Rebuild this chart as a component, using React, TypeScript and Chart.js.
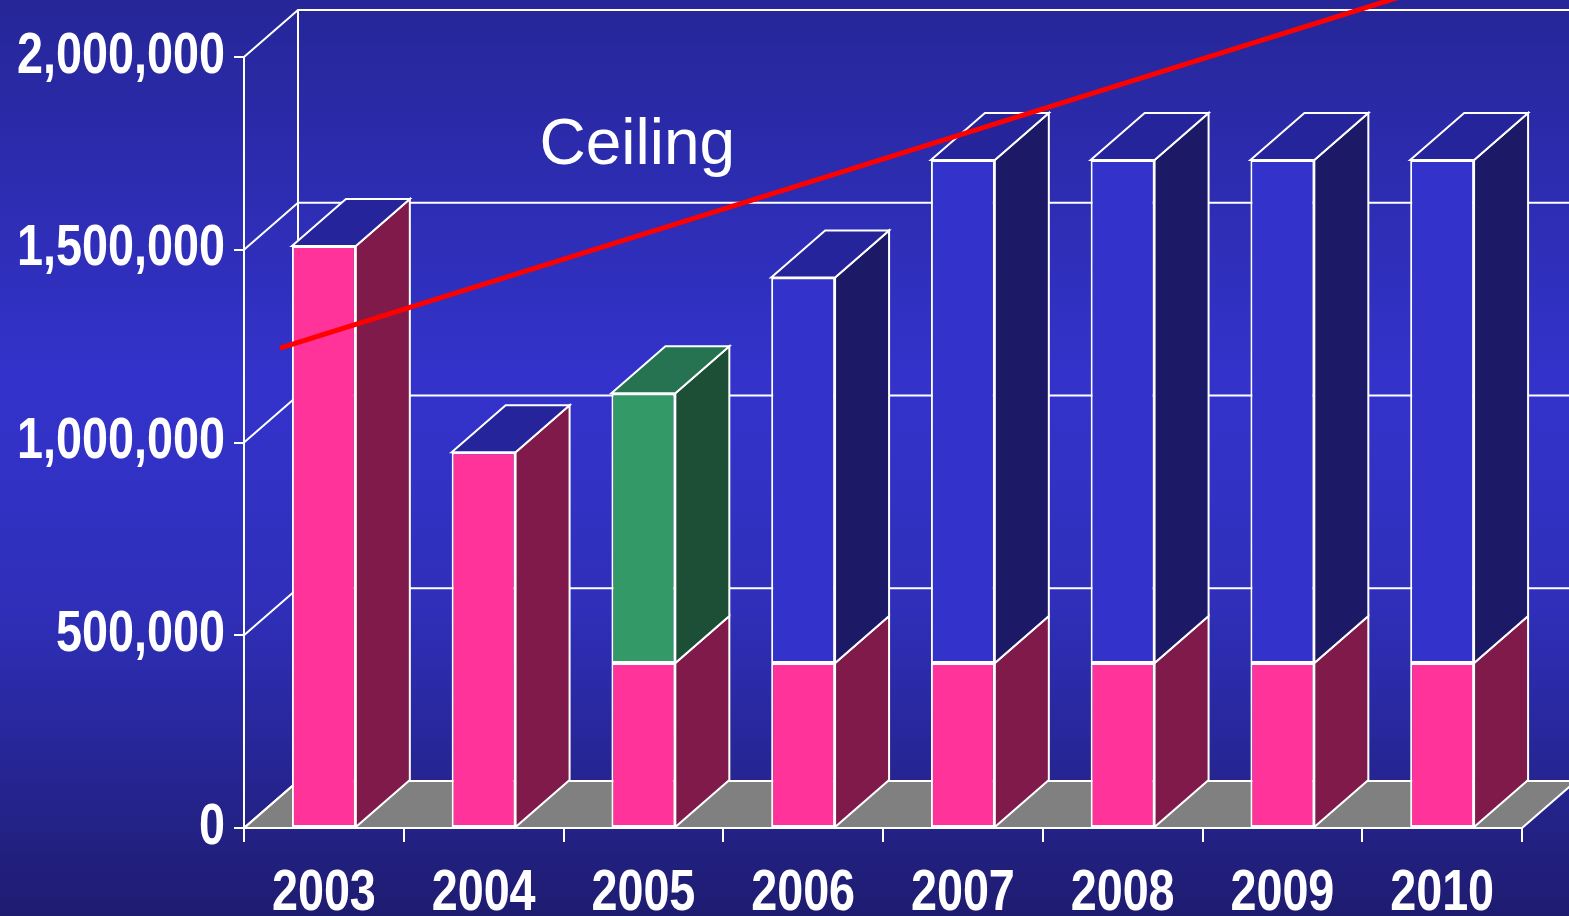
import { useEffect, useRef } from 'react';
import { Chart, registerables } from 'chart.js';

Chart.register(...registerables);

// ---- data ----
const categories = ['2003', '2004', '2005', '2006', '2007', '2008', '2009', '2010'];
const baseValues = [1510000, 975000, 428000, 428000, 428000, 428000, 428000, 428000];
const greenValues = [null, null, 700000, null, null, null, null, null];
const blueValues = [null, null, null, 1000000, 1305000, 1305000, 1305000, 1305000];
const yTicks = [0, 500000, 1000000, 1500000, 2000000];
const ceilingX = [0.225, 8.5];
const ceilingY = [1245000, 2320000];
const ceilingLabel = 'Ceiling';
const ceilingLabelPos = { x: 1.85, y: 1722000 };

// ---- styles ----
const DEPTH_X = 54;
const DEPTH_Y = 47;
const FRONT = ['#ff3399', '#339966', '#3333cc'];
const SIDE = ['#801a4b', '#1d4f36', '#1c1a66'];
const TOP = ['#26249a', '#257350', '#26249a'];
const FLOOR = '#808080';
const LABEL_FONT = 'bold 57px "Liberation Sans", Arial, sans-serif';
const NARROW = 0.82;

const threeD = {
  id: 'threeD',
  beforeDraw(chart: any) {
    const { ctx, width, height } = chart;
    const g = ctx.createLinearGradient(0, 0, 0, height);
    g.addColorStop(0, 'rgb(38,38,152)');
    g.addColorStop(0.42, 'rgb(51,51,204)');
    g.addColorStop(0.66, 'rgb(47,47,186)');
    g.addColorStop(1, 'rgb(30,28,112)');
    ctx.save();
    ctx.fillStyle = g;
    ctx.fillRect(0, 0, width, height);
    ctx.restore();
  },
  beforeDatasetsDraw(chart: any) {
    const { ctx } = chart;
    const { left, right, bottom } = chart.chartArea;
    const ys = chart.scales.y;
    const xl = chart.scales.xl;
    ctx.save();
    ctx.lineJoin = 'miter';
    // floor
    ctx.beginPath();
    ctx.moveTo(left, bottom);
    ctx.lineTo(right, bottom);
    ctx.lineTo(right + DEPTH_X, bottom - DEPTH_Y);
    ctx.lineTo(left + DEPTH_X, bottom - DEPTH_Y);
    ctx.closePath();
    ctx.fillStyle = FLOOR;
    ctx.fill();
    ctx.strokeStyle = '#ffffff';
    ctx.lineWidth = 2;
    ctx.stroke();
    // back wall
    const topY = ys.getPixelForValue(yTicks[yTicks.length - 1]);
    ctx.beginPath();
    ctx.moveTo(left + DEPTH_X, topY - DEPTH_Y);
    ctx.lineTo(left + DEPTH_X, bottom - DEPTH_Y);
    ctx.stroke();
    yTicks.forEach((v) => {
      const yy = ys.getPixelForValue(v);
      ctx.beginPath();
      ctx.moveTo(left, yy);
      ctx.lineTo(left + DEPTH_X, yy - DEPTH_Y);
      ctx.lineTo(chart.width + 5, yy - DEPTH_Y);
      ctx.stroke();
    });
    // label
    ctx.fillStyle = '#ffffff';
    ctx.font = '64px "Liberation Sans", Arial, sans-serif';
    ctx.textAlign = 'left';
    ctx.textBaseline = 'alphabetic';
    ctx.fillText(ceilingLabel, xl.getPixelForValue(ceilingLabelPos.x), ys.getPixelForValue(ceilingLabelPos.y));

    // 3D faces of bars
    const barSets = [baseValues, greenValues, blueValues];
    const topmost = categories.map((_, i) => {
      let t = -1;
      barSets.forEach((arr, d) => { if (arr[i] != null) t = d; });
      return t;
    });
    barSets.forEach((arr, d) => {
      const meta = chart.getDatasetMeta(d);
      meta.data.forEach((el: any, i: number) => {
        if (arr[i] == null) return;
        const l = el.x - el.width / 2;
        const r = el.x + el.width / 2;
        const t = el.y;
        const b = el.base;
        ctx.lineWidth = 2;
        ctx.strokeStyle = '#ffffff';
        ctx.beginPath();
        ctx.moveTo(r, b);
        ctx.lineTo(r, t);
        ctx.lineTo(r + DEPTH_X, t - DEPTH_Y);
        ctx.lineTo(r + DEPTH_X, b - DEPTH_Y);
        ctx.closePath();
        ctx.fillStyle = SIDE[d];
        ctx.fill();
        ctx.stroke();
        if (topmost[i] === d) {
          ctx.beginPath();
          ctx.moveTo(l, t);
          ctx.lineTo(l + DEPTH_X, t - DEPTH_Y);
          ctx.lineTo(r + DEPTH_X, t - DEPTH_Y);
          ctx.lineTo(r, t);
          ctx.closePath();
          ctx.fillStyle = TOP[d];
          ctx.fill();
          ctx.stroke();
        }
      });
    });
    ctx.restore();
  },
  afterDraw(chart: any) {
    const { ctx } = chart;
    const xs = chart.scales.x;
    const ys = chart.scales.y;
    ctx.save();
    ctx.fillStyle = '#ffffff';
    ctx.font = LABEL_FONT;
    // y labels
    ctx.textAlign = 'right';
    ctx.textBaseline = 'middle';
    ys.ticks.forEach((t: any, i: number) => {
      const yy = ys.getPixelForTick(i);
      ctx.save();
      ctx.translate(ys.right - 19, yy);
      ctx.scale(NARROW, 1);
      ctx.fillText(String(t.label), 0, 0);
      ctx.restore();
    });
    // x labels
    ctx.textAlign = 'center';
    ctx.textBaseline = 'alphabetic';
    xs.ticks.forEach((t: any, i: number) => {
      const xx = xs.getPixelForTick(i);
      ctx.save();
      ctx.translate(xx, xs.top + 82);
      ctx.scale(NARROW, 1);
      ctx.fillText(String(t.label), 0, 0);
      ctx.restore();
    });
    ctx.restore();
  },
};

export default function App() {
  const ref = useRef<HTMLCanvasElement>(null);
  useEffect(() => {
    document.body.style.margin = '0';
    const barDs = (data: (number | null)[], d: number) => ({
      type: 'bar' as const,
      data,
      backgroundColor: FRONT[d],
      borderColor: '#ffffff',
      borderWidth: 2,
      borderSkipped: false,
      barPercentage: 0.4,
      categoryPercentage: 1,
      grouped: false,
    });
    const chart = new Chart(ref.current!, {
      type: 'bar',
      data: {
        labels: categories,
        datasets: [
          barDs(baseValues, 0),
          barDs(greenValues, 1),
          barDs(blueValues, 2),
          {
            type: 'line',
            label: 'Ceiling',
            data: ceilingX.map((x, i) => ({ x, y: ceilingY[i] })),
            xAxisID: 'xl',
            borderColor: '#ff0000',
            borderWidth: 5,
            pointRadius: 0,
            tension: 0,
            clip: false,
            order: -1,
          } as any,
        ],
      },
      options: {
        responsive: false,
        animation: false,
        devicePixelRatio: 1,
        layout: { padding: { top: 57, right: 47, left: 0, bottom: 0 } },
        plugins: { legend: { display: false }, tooltip: { enabled: false } },
        scales: {
          x: {
            stacked: true,
            grid: { display: true, drawOnChartArea: false, drawTicks: true, tickLength: 14, color: '#ffffff', lineWidth: 2, offset: true },
            border: { display: true, color: '#ffffff', width: 2 },
            ticks: { color: 'rgba(0,0,0,0)', font: { size: 20 }, padding: 16, maxRotation: 0, autoSkip: false },
            afterFit(s: any) { s.height = 88; },
          },
          xl: { type: 'linear', display: false, min: 0, max: 8, offset: false, grid: { offset: false } },
          y: {
            stacked: true,
            min: 0,
            max: 2000000,
            afterBuildTicks(s: any) { s.ticks = yTicks.map((v) => ({ value: v })); },
            grid: { display: true, drawOnChartArea: false, drawTicks: true, tickLength: 10, color: '#ffffff', lineWidth: 2 },
            border: { display: true, color: '#ffffff', width: 2 },
            ticks: { color: 'rgba(0,0,0,0)', font: { size: 20 }, padding: 9, callback: (v: any) => Number(v).toLocaleString('en-US') },
            afterFit(s: any) { s.width = 244; },
          },
        } as any,
      },
      plugins: [threeD],
    });
    return () => chart.destroy();
  }, []);
  return (
    <div style={{ position: 'absolute', left: 0, top: 0, width: 1569, height: 916 }}>
      <canvas ref={ref} width={1569} height={916} style={{ display: 'block', width: 1569, height: 916 }} />
    </div>
  );
}
